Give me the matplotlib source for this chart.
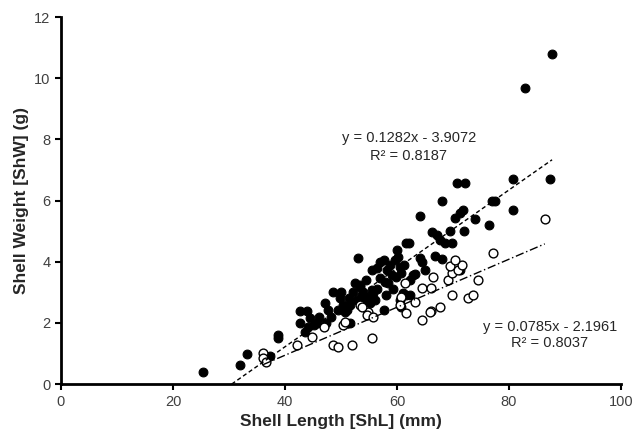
import numpy as np
import matplotlib.pyplot as plt

plt.rcParams['font.family'] = ['Liberation Sans', 'DejaVu Sans']

# filled circles (group 1)
filled_x = [25.4, 32.0, 33.3, 37.3, 38.7, 38.8, 42.7, 43.9, 43.6, 44.5, 45.1, 45.7,
            47.1, 47.7, 48.3, 47.4, 48.6, 49.8, 50.4, 49.5, 50.7, 51.6, 53.1, 52.5,
            53.4, 52.2, 53.7, 52.8, 54.3, 51.6, 51.0, 55.5, 55.5, 53.4, 54.0, 54.6,
            55.8, 56.1, 55.2, 57.6, 57.0, 57.6, 56.4, 58.2, 59.1, 60.0, 60.2, 59.6,
            60.5, 60.8, 59.9, 61.7, 62.2, 57.0, 57.9, 58.4, 60.5, 60.8, 61.1, 62.3,
            62.9, 62.3, 65.0, 64.1, 64.4, 66.8, 68.0, 66.2, 67.1, 67.7, 68.6, 69.8,
            64.1, 69.5, 72.0, 70.4, 71.3, 71.8, 73.9, 76.5, 68.0, 76.9, 77.5, 70.7,
            72.1, 80.7, 80.7, 87.3, 82.9, 87.7, 42.7, 44.2, 61.7, 71.3,
            46.0, 50.0, 51.5, 54.5, 56.5, 58.8, 61.2, 63.3, 58.0, 59.3]
filled_y = [0.40, 0.62, 1.00, 0.92, 1.60, 1.50, 2.40, 2.40, 1.71, 2.15, 1.93, 1.99,
            2.64, 2.42, 2.20, 1.99, 3.02, 2.80, 2.59, 2.42, 2.37, 1.99, 4.11, 3.30,
            3.24, 3.02, 2.91, 2.75, 2.75, 2.59, 2.42, 3.73, 3.08, 3.19, 3.02, 2.86,
            2.97, 2.75, 2.64, 2.42, 4.00, 4.06, 3.79, 3.73, 3.57, 4.39, 4.17, 4.06,
            3.84, 3.62, 3.51, 4.60, 4.63, 3.46, 3.35, 3.30, 2.75, 2.53, 2.97, 2.91,
            3.57, 3.40, 3.73, 4.11, 4.00, 4.19, 4.08, 4.99, 4.88, 4.71, 4.63, 4.63,
            5.50, 5.02, 5.02, 5.42, 5.59, 5.70, 5.39, 5.20, 5.99, 5.99, 5.99, 6.59,
            6.59, 6.70, 5.70, 6.70, 9.68, 10.80, 1.99, 1.88, 2.91, 3.73,
            2.20, 3.00, 2.80, 3.40, 3.10, 3.90, 3.90, 3.60, 2.90, 3.10]

# open circles (group 2)
open_x = [36.1, 36.1, 36.6, 42.1, 44.9, 47.0, 48.5, 49.5, 50.4, 50.8, 52.0, 53.4,
          54.9, 55.5, 54.6, 55.8, 53.7, 61.4, 60.8, 63.2, 61.7, 64.4, 64.4, 66.0,
          66.5, 67.6, 66.0, 69.8, 69.2, 69.8, 70.9, 69.5, 71.6, 70.4, 72.7, 73.6,
          74.5, 77.1, 86.4, 60.5, 65.9]
open_y = [1.03, 0.84, 0.73, 1.28, 1.53, 1.88, 1.28, 1.20, 1.93, 2.04, 1.28, 2.59,
          2.37, 1.52, 2.26, 2.20, 2.53, 3.32, 2.84, 2.69, 2.31, 2.09, 3.13, 3.15,
          3.49, 2.53, 2.40, 2.91, 3.40, 3.62, 3.73, 3.86, 3.90, 4.06, 2.82, 2.91,
          3.40, 4.30, 5.39, 2.59, 2.37]

fit1 = (0.1282, -3.9072)
fit2 = (0.0785, -2.1961)

fig = plt.figure(figsize=(6.32, 4.4), dpi=100)
ax = fig.add_axes([0.0965, 0.127, 0.886, 0.834])

ax.scatter(filled_x, filled_y, s=40, c='black', edgecolors='black', linewidths=0.8, zorder=3)
ax.scatter(open_x, open_y, s=40, c='white', edgecolors='black', linewidths=1.0, zorder=4)

xs = np.array([min(filled_x), max(filled_x)])
ax.plot(xs, fit1[0] * xs + fit1[1], color='black', ls=(0, (3, 2)), lw=1.0, zorder=5)
xs = np.array([min(open_x), max(open_x)])
ax.plot(xs, fit2[0] * xs + fit2[1], color='black', ls=(0, (6, 2, 1, 2)), lw=1.0, zorder=5)

ax.text(62.1, 8.05, 'y = 0.1282x - 3.9072', ha='center', va='center', fontsize=10.5, color='#262626')
ax.text(62.1, 7.45, 'R² = 0.8187', ha='center', va='center', fontsize=10.5, color='#262626')
ax.text(87.3, 1.88, 'y = 0.0785x - 2.1961', ha='center', va='center', fontsize=10.5, color='#262626')
ax.text(87.3, 1.33, 'R² = 0.8037', ha='center', va='center', fontsize=10.5, color='#262626')

ax.set_xlim(0, 100)
ax.set_ylim(0, 12)
ax.set_xticks(range(0, 101, 20))
ax.set_yticks(range(0, 13, 2))
ax.spines['top'].set_visible(False)
ax.spines['right'].set_visible(False)
for s in ['left', 'bottom']:
    ax.spines[s].set_linewidth(2)
ax.tick_params(direction='out', length=4, width=1.5, labelsize=10.5, labelcolor='#404040')
ax.set_xlabel('Shell Length [ShL] (mm)', fontsize=12.5, fontweight='bold', color='#262626')
ax.set_ylabel('Shell Weight [ShW] (g)', fontsize=12.5, fontweight='bold', color='#262626')

fig.savefig('out.png', dpi=100)
